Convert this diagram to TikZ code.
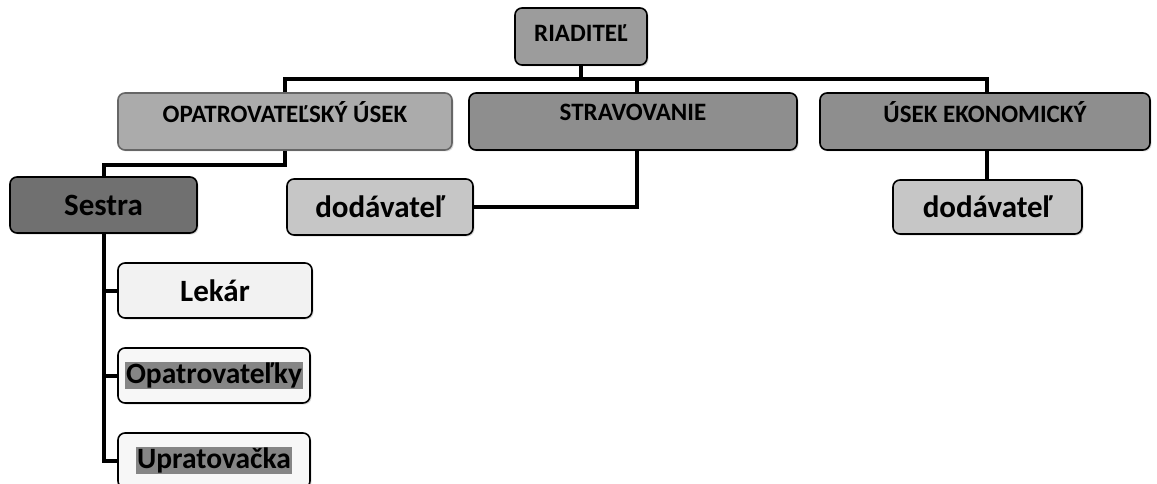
\documentclass[tikz,border=0pt]{standalone}
\usepackage{fontspec}
\setmainfont{Carlito}
\usetikzlibrary{shadows}
\definecolor{cRia}{HTML}{9C9C9C}
\definecolor{cOpat}{HTML}{ABABAB}
\definecolor{cStrav}{HTML}{8E8E8E}
\definecolor{cSes}{HTML}{707070}
\definecolor{cDod}{HTML}{C6C6C6}
\definecolor{cLek}{HTML}{F2F2F2}
\definecolor{cWhite}{HTML}{F7F7F7}
\definecolor{cHi}{HTML}{858585}
\tikzset{
  box/.style={draw=black, line width=1.6pt, rounded corners=7pt, inner sep=0pt,
    drop shadow={opacity=0.25, shadow xshift=1.5pt, shadow yshift=-1.5pt}},
  captext/.style={font=\fontsize{25}{28}\selectfont\bfseries},
  lowtext/.style={font=\fontsize{31}{34}\selectfont\bfseries},
  hitext/.style={font=\fontsize{29.5}{33}\selectfont\bfseries},
  conn/.style={draw=black, line width=4pt},
  hilite/.style={fill=cHi, inner sep=1pt}
}
\begin{document}
\begin{tikzpicture}[x=1pt,y=-1pt]
\useasboundingbox (0,0) rectangle (1157,484);
\clip (0,0) rectangle (1157,484);
% bus coordinates
\coordinate (bus) at (0,79);
\coordinate (sx) at (637,0);
\coordinate (ux) at (987,0);
% nodes
\node[box, fill=cRia, minimum width=132pt, minimum height=57pt] (RIA) at (581,36.5) {};
\node[captext] (RIAt) at ([yshift=3pt]RIA.center) {RIADITEĽ};
\node[box, fill=cOpat, draw=gray!80!black, minimum width=334pt, minimum height=57pt] (OPAT) at (285,121.5) {};
\node[captext] (OPATt) at ([yshift=9pt]OPAT.center) {OPATROVATEĽSKÝ ÚSEK};
\node[box, fill=cStrav, minimum width=328pt, minimum height=57pt] (STRAV) at (633,121.5) {};
\node[captext] (STRAVt) at ([yshift=9pt]STRAV.center) {STRAVOVANIE};
\node[box, fill=cStrav, minimum width=330pt, minimum height=57pt] (USEK) at (985,121.5) {};
\node[captext] (USEKt) at ([yshift=9pt]USEK.center) {ÚSEK EKONOMICKÝ};
\node[box, lowtext, fill=cSes, minimum width=187pt, minimum height=56pt] (SES) at (103.5,205) {Sestra};
\node[box, lowtext, fill=cDod, minimum width=186pt, minimum height=56pt] (DOD1) at (380,207) {dodávateľ};
\node[box, lowtext, fill=cDod, minimum width=189pt, minimum height=54pt] (DOD2) at (987.5,207) {dodávateľ};
\node[box, lowtext, fill=cLek, minimum width=194pt, minimum height=55pt] (LEK) at (215,290.5) {Lekár};
\node[box, fill=cWhite, minimum width=192pt, minimum height=55pt] (OP2) at (214,375.5) {};
\node[hitext, hilite] (OP2t) at (OP2.center) {Opatrovateľky};
\node[box, fill=cWhite, minimum width=192pt, minimum height=55pt] (UPR) at (214,460.5) {};
\node[hitext, hilite] (UPRt) at (UPR.center) {Upratovačka};
% connectors
\draw[conn] (RIA.south) -- (RIA.south |- bus);
\draw[conn] (OPAT.north) -- (OPAT.north |- bus) -- (ux |- bus) -- (ux |- USEK.north);
\draw[conn] (sx |- bus) -- (sx |- STRAV.north);
\draw[conn] (OPAT.south) -- ++(0,14) -| (SES.north);
\draw[conn] (sx |- STRAV.south) |- (DOD1.east);
\draw[conn] (ux |- USEK.south) -- (ux |- DOD2.north);
\draw[conn] (SES.south) |- (UPR.west);
\draw[conn] (SES.south |- LEK.west) -- (LEK.west);
\draw[conn] (SES.south |- OP2.west) -- (OP2.west);
\end{tikzpicture}
\end{document}
